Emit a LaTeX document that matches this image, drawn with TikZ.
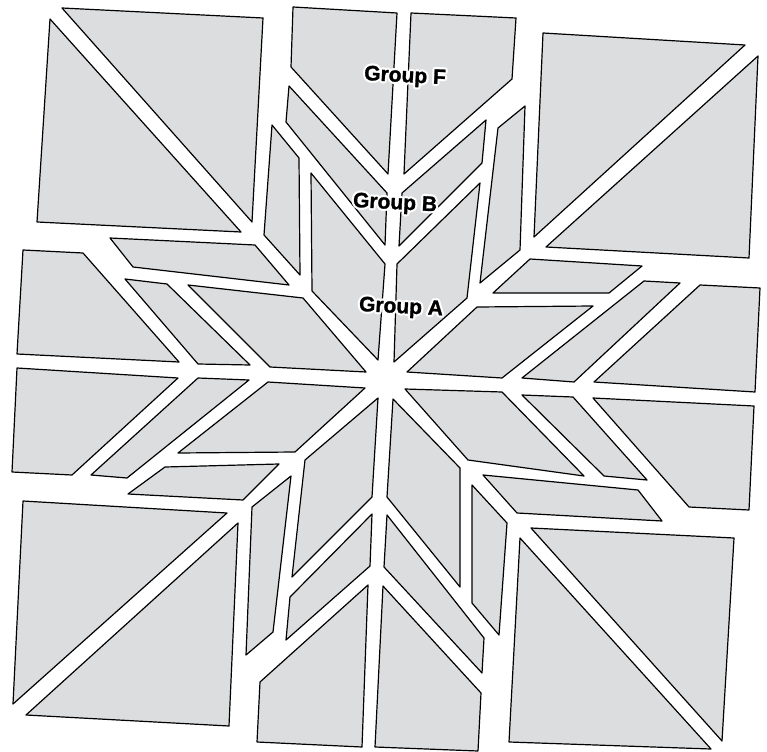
\documentclass[tikz,border=0pt]{standalone}
\usepackage{fontspec}
\setmainfont{Liberation Sans}
\newfontfamily\lblfont{Liberation Sans}[FakeBold=1.3]
\definecolor{quiltgray}{HTML}{DCDDDF}
\tikzset{
  piece/.style={draw=black, fill=quiltgray, line width=1.2pt, line join=round},
  lbl/.style={font=\lblfont\bfseries\fontsize{21}{22}\selectfont, text=black, inner sep=0pt, rotate=-3}
}
\newcommand\halolabel[3]{%
  \foreach \a in {0,45,...,315} {\node[lbl, text=white, shift={(\a:2.2pt)}] at (#2) {#3};}
  \node[lbl] (#1) at (#2) {#3};}
\begin{document}
\begin{tikzpicture}[x=1pt,y=-1pt]
\useasboundingbox (0,0) rectangle (767,751);
% corner triangles
\draw[piece] (62,8) -- (263,18) -- (252,222) -- cycle;
\draw[piece] (50,19) -- (37,222) -- (241,232) -- cycle;
\draw[piece] (543,33) -- (745,45) -- (534,237) -- cycle;
\draw[piece] (758,56) -- (749,258) -- (546,247) -- cycle;
\draw[piece] (23,501) -- (227,513) -- (13,704) -- cycle;
\draw[piece] (238,523) -- (229,726) -- (26,715) -- cycle;
\draw[piece] (531,528) -- (734,538) -- (722,741) -- cycle;
\draw[piece] (520,538) -- (711,749) -- (509,742) -- cycle;
% north arm
\draw[piece] (293,7) -- (397,13) -- (388,174) -- (291,67) -- cycle;
\draw[piece] (411,13) -- (516,18) -- (512,79) -- (404,174) -- cycle;
\draw[piece] (289,86) -- (387,193) -- (385,245) -- (286,122) -- cycle;
\draw[piece] (402,193) -- (486,120) -- (482,163) -- (399,246) -- cycle;
\draw[piece] (311,173) -- (385,264) -- (378,360) -- (312,291) -- cycle;
\draw[piece] (397,264) -- (480,183) -- (467,298) -- (394,362) -- cycle;
% diagonal NW / NE
\draw[piece] (272,125) -- (299,158) -- (300,275) -- (264,235) -- cycle;
\draw[piece] (110,238) -- (255,245) -- (289,285) -- (133,267) -- cycle;
\draw[piece] (498,128) -- (525,106) -- (520,250) -- (480,283) -- cycle;
\draw[piece] (530,259) -- (642,266) -- (609,293) -- (493,293) -- cycle;
% west arm
\draw[piece] (23,250) -- (83,253) -- (179,362) -- (17,354) -- cycle;
\draw[piece] (17,368) -- (178,378) -- (72,475) -- (12,472) -- cycle;
\draw[piece] (125,279) -- (167,284) -- (250,365) -- (198,364) -- cycle;
\draw[piece] (198,378) -- (249,380) -- (127,478) -- (91,475) -- cycle;
\draw[piece] (188,285) -- (303,298) -- (366,372) -- (270,367) -- cycle;
\draw[piece] (268,382) -- (365,388) -- (295,452) -- (178,453) -- cycle;
% east arm
\draw[piece] (477,307) -- (593,306) -- (502,378) -- (407,372) -- cycle;
\draw[piece] (522,378) -- (644,281) -- (680,283) -- (574,382) -- cycle;
\draw[piece] (700,285) -- (760,288) -- (755,392) -- (594,382) -- cycle;
\draw[piece] (593,398) -- (754,406) -- (749,510) -- (689,507) -- cycle;
\draw[piece] (522,395) -- (573,397) -- (647,480) -- (604,476) -- cycle;
\draw[piece] (405,389) -- (502,392) -- (584,476) -- (468,460) -- cycle;
% diagonal SE / SW
\draw[piece] (483,475) -- (638,490) -- (662,521) -- (517,513) -- cycle;
\draw[piece] (472,485) -- (507,523) -- (499,635) -- (472,603) -- cycle;
\draw[piece] (165,467) -- (279,464) -- (243,500) -- (128,494) -- cycle;
\draw[piece] (252,507) -- (291,476) -- (273,632) -- (246,655) -- cycle;
% south arm
\draw[piece] (378,398) -- (372,497) -- (292,577) -- (305,460) -- cycle;
\draw[piece] (393,399) -- (460,468) -- (460,587) -- (387,497) -- cycle;
\draw[piece] (290,597) -- (372,514) -- (370,566) -- (286,640) -- cycle;
\draw[piece] (387,515) -- (484,638) -- (482,673) -- (384,567) -- cycle;
\draw[piece] (260,682) -- (368,585) -- (362,747) -- (257,742) -- cycle;
\draw[piece] (383,586) -- (481,693) -- (478,751) -- (375,747) -- cycle;
% labels
\halolabel{lblF}{405,77}{Group F}
\halolabel{lblB}{395,204}{Group B}
\halolabel{lblA}{401,308}{Group A}
\end{tikzpicture}
\end{document}
